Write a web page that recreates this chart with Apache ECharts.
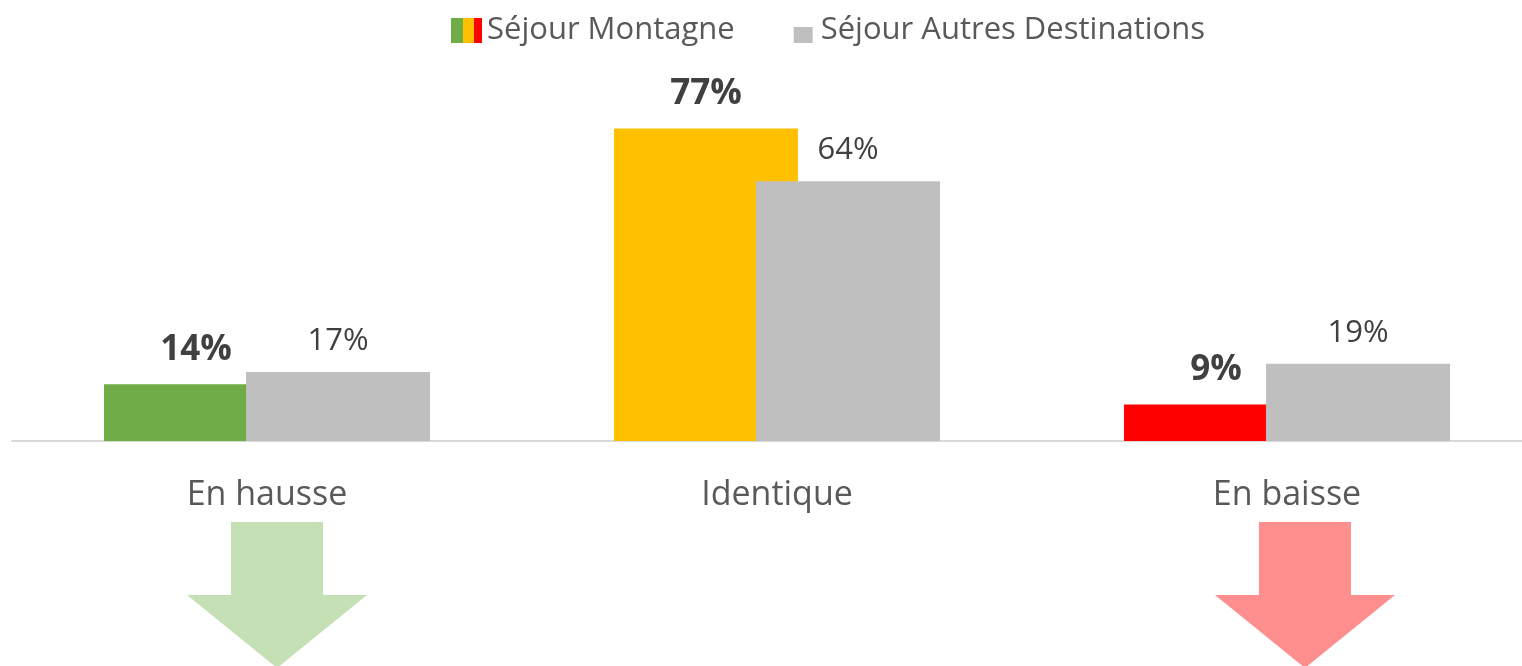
<!DOCTYPE html>
<html>
<head>
<meta charset="utf-8">
<script src="https://cdn.jsdelivr.net/npm/echarts@6/dist/echarts.min.js"></script>
<style>
  html, body { margin: 0; padding: 0; background: #fff; }
  #chart { width: 1522px; height: 666px; }
</style>
</head>
<body>
<div id="chart"></div>
<script>
// categories and values (%)
var categories = ['En hausse', 'Identique', 'En baisse'];
var montagne = [14, 77, 9];
var autres = [17, 64, 19];
var montagneColors = ['#70AD47', '#FFC000', '#FF0000'];
var seriesNames = ['Séjour Montagne', 'Séjour Autres Destinations'];

var font = '"Open Sans", Lato, sans-serif';

function svgIcon(body) {
  return 'image://data:image/svg+xml;charset=utf-8,' + encodeURIComponent(
    "<svg xmlns='http://www.w3.org/2000/svg' width='31' height='25' viewBox='0 0 31 25'>" + body + "</svg>");
}
var iconMontagne = svgIcon(
  "<rect x='0' y='0' width='12' height='25' fill='#70AD47'/>" +
  "<rect x='12' y='0' width='11' height='25' fill='#FFC000'/>" +
  "<rect x='23' y='0' width='8' height='25' fill='#FF0000'/>");
var iconAutres = svgIcon("<rect x='9' y='9' width='19' height='16' fill='#BFBFBF'/>");

// down arrows under the first and last category
function arrow(cx, color) {
  return {
    type: 'polygon',
    silent: true,
    shape: {
      points: [
        [cx - 46, 522], [cx + 46, 522], [cx + 46, 595], [cx + 90, 595],
        [cx, 668], [cx - 90, 595], [cx - 46, 595]
      ]
    },
    style: { fill: color }
  };
}

var myChart = echarts.init(document.getElementById('chart'));
var option = {
  animation: false,
  textStyle: { fontFamily: font },
  legend: {
    top: 10,
    left: 446,
    itemWidth: 31,
    itemHeight: 25,
    itemGap: 50,
    textStyle: { fontSize: 31, color: '#595959', fontFamily: font },
    data: [
      { name: seriesNames[0], icon: iconMontagne },
      { name: seriesNames[1], icon: iconAutres }
    ]
  },
  grid: {
    left: 12,
    width: 1530,
    top: 35,
    bottom: 225,
    containLabel: false,
    outerBoundsMode: 'none'
  },
  xAxis: {
    type: 'category',
    data: categories,
    axisLine: { lineStyle: { color: '#D9D9D9', width: 2 } },
    axisTick: { show: false },
    axisLabel: { margin: 37, fontSize: 34, color: '#595959', fontFamily: font }
  },
  yAxis: {
    type: 'value',
    min: 0,
    max: 100,
    show: false,
    splitLine: { show: false }
  },
  series: [
    {
      name: seriesNames[0],
      type: 'bar',
      barWidth: 184,
      barGap: '-22.8%',
      itemStyle: { color: '#FFC000' },
      data: montagne.map(function (v, i) {
        return { value: v, itemStyle: { color: montagneColors[i] } };
      }),
      label: {
        show: true,
        position: 'top',
        distance: 17,
        formatter: '{c}%',
        fontSize: 35,
        fontWeight: 'bold',
        color: '#404040',
        fontFamily: font
      }
    },
    {
      name: seriesNames[1],
      type: 'bar',
      barWidth: 184,
      itemStyle: { color: '#BFBFBF' },
      data: autres,
      label: {
        show: true,
        position: 'top',
        distance: 15,
        formatter: '{c}%',
        fontSize: 31,
        color: '#404040',
        fontFamily: font
      }
    }
  ],
  graphic: [
    arrow(277, '#C5E0B4'),
    arrow(1305, '#FF8F8F')
  ]
};
myChart.setOption(option);
window.addEventListener('resize', myChart.resize);
</script>
</body>
</html>
